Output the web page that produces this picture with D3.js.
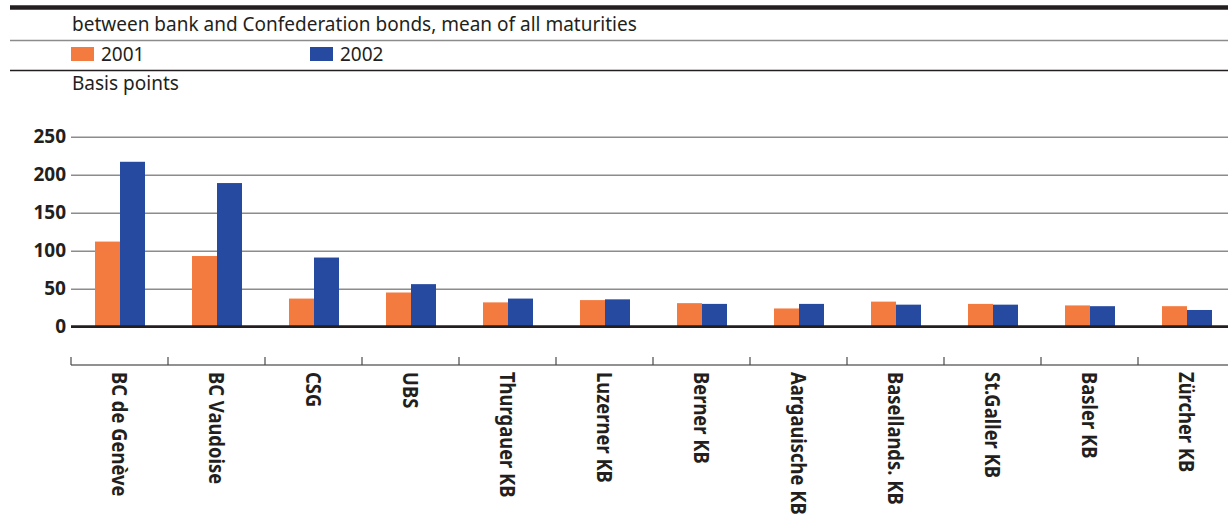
<!DOCTYPE html>
<html>
<head>
<meta charset="utf-8">
<script src="https://cdn.jsdelivr.net/npm/d3@7"></script>
<style>
  body { margin: 0; background: #fff; }
  svg { display: block; }
  text { font-family: "Noto Sans", sans-serif; fill: #231f20; }
</style>
</head>
<body>
<svg id="chart" width="1228" height="516"></svg>
<script>
// Mean yield spread between bank and Confederation bonds (basis points)
const banks = ["BC de Genève", "BC Vaudoise", "CSG", "UBS", "Thurgauer KB", "Luzerner KB",
               "Berner KB", "Aargauische KB", "Basellands. KB", "St.Galler KB", "Basler KB", "Zürcher KB"];
const spread2001 = [112, 93, 37, 45, 32, 35, 31, 24, 33, 30, 28, 27];
const spread2002 = [217, 189, 91, 56, 37, 36, 30, 30, 29, 29, 27, 22];
const years = ["2001", "2002"];
const yTicks = [0, 50, 100, 150, 200, 250];
const subtitle = "between bank and Confederation bonds, mean of all maturities";
const unitLabel = "Basis points";

const colors = { "2001": "#f37b3f", "2002": "#254a9f" };
const W = 1228;
const svg = d3.select("#chart");

// Header rules
svg.append("line").attr("x1", 10).attr("x2", W).attr("y1", 7.5).attr("y2", 7.5)
  .attr("stroke", "#231f20").attr("stroke-width", 4.5);
svg.append("line").attr("x1", 10).attr("x2", W).attr("y1", 40.5).attr("y2", 40.5)
  .attr("stroke", "#8c8c8c").attr("stroke-width", 1.6);
svg.append("line").attr("x1", 10).attr("x2", W).attr("y1", 70.5).attr("y2", 70.5)
  .attr("stroke", "#231f20").attr("stroke-width", 1.4);

svg.append("text").attr("x", 72).attr("y", 31).attr("font-size", 19).text(subtitle);

// Legend
const legendX = [71, 310];
years.forEach((yr, i) => {
  svg.append("rect").attr("x", legendX[i]).attr("y", 47).attr("width", 23).attr("height", 14)
    .attr("fill", colors[yr]);
  svg.append("text").attr("x", legendX[i] + 30).attr("y", 61).attr("font-size", 19).text(yr);
});

svg.append("text").attr("x", 72).attr("y", 90).attr("font-size", 19).text(unitLabel);

// Scales
const x = d3.scaleBand().domain(banks).range([71, 71 + 97 * banks.length]);
const groupW = 50;
const x1 = d3.scaleBand().domain(years).range([0, groupW]);
const y = d3.scaleLinear().domain([0, 250]).range([326.7, 136.7]);

// Value axis with gridlines
const yAxis = svg.append("g").attr("transform", "translate(71,0)")
  .call(d3.axisLeft(y).tickValues(yTicks).tickSizeInner(-(W - 71)).tickSizeOuter(0).tickPadding(5));
yAxis.select(".domain").remove();
yAxis.selectAll(".tick line").attr("stroke", "#8c8c8c").attr("stroke-width", 1.4);
yAxis.selectAll(".tick text").attr("font-size", 19).attr("font-weight", "bold")
  .attr("font-family", "'Noto Sans', sans-serif").attr("fill", "#231f20");

// Bars
const data = banks.map((b, i) => ({ bank: b, values: [spread2001[i], spread2002[i]] }));
const groups = svg.append("g").selectAll("g").data(data).join("g")
  .attr("transform", d => `translate(${x(d.bank) + (x.bandwidth() - groupW) / 2 + 0.5},0)`);
groups.selectAll("rect").data(d => years.map((yr, j) => ({ yr, v: d.values[j] }))).join("rect")
  .attr("x", d => x1(d.yr))
  .attr("width", x1.bandwidth())
  .attr("y", d => y(d.v))
  .attr("height", d => y(0) - y(d.v))
  .attr("fill", d => colors[d.yr]);

// Zero line
svg.append("line").attr("x1", 71).attr("x2", W).attr("y1", y(0)).attr("y2", y(0))
  .attr("stroke", "#231f20").attr("stroke-width", 2.8);

// Category axis
const catY = 365;
const cat = svg.append("g");
cat.append("line").attr("x1", 71).attr("x2", W).attr("y1", catY).attr("y2", catY)
  .attr("stroke", "#6d6d6d").attr("stroke-width", 1.3);
cat.selectAll("line.tick").data(banks).join("line").attr("class", "tick")
  .attr("x1", d => x(d)).attr("x2", d => x(d))
  .attr("y1", catY - 8).attr("y2", catY)
  .attr("stroke", "#4a4a4a").attr("stroke-width", 1.2);
cat.selectAll("text").data(banks).join("text")
  .attr("transform", d => `translate(${x(d) + x.bandwidth() / 2},372) rotate(90) scale(1,1.18)`)
  .attr("dy", "0.35em")
  .attr("font-size", 18.4).attr("font-weight", "bold")
  .text(d => d);
</script>
</body>
</html>
